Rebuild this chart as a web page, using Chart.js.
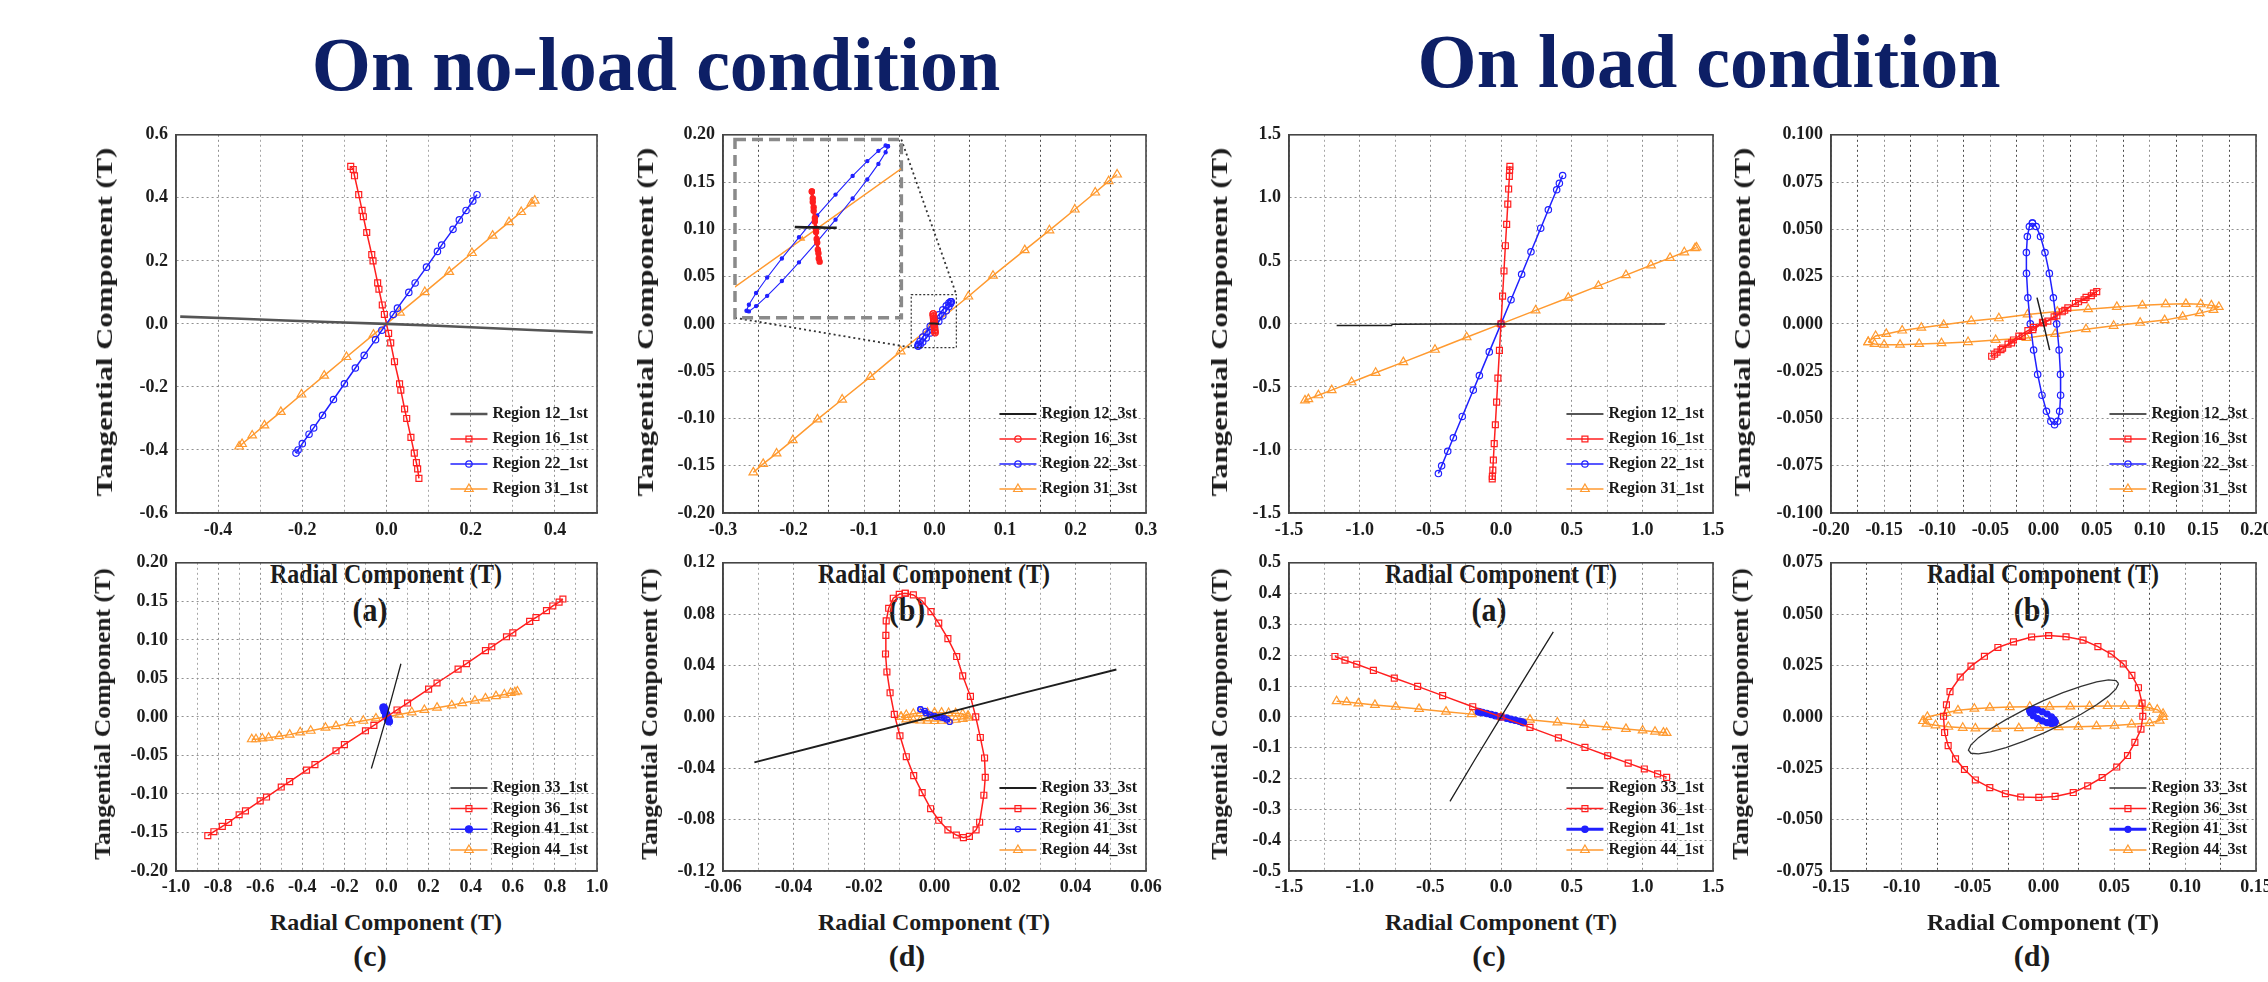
<!DOCTYPE html>
<html>
<head>
<meta charset="utf-8">
<script src="https://cdn.jsdelivr.net/npm/chart.js@4.4.1/dist/chart.umd.min.js"></script>
<style>
  body { margin: 0; width: 2268px; height: 982px; overflow: hidden; background: #fff; position: relative;
         font-family: "Liberation Serif", "Times New Roman", serif; }
  canvas { position: absolute; }
  .txt { position: absolute; font-weight: bold; white-space: nowrap; color: #1c1c1c; line-height: 1; }
  .head { position: absolute; font-weight: bold; white-space: nowrap; color: #0d1f66; font-size: 76px;
          line-height: 76px; transform: translateX(-50%); }
  .probe { position: absolute; left: -500px; top: 0; font-weight: bold; font-size: 18px; }
</style>
</head>
<body>
<div class="head" style="left:656px;top:26px;">On no-load condition</div>
<div class="head" style="left:1709px;top:23px;">On load condition</div>
<div class="probe">0.123 Region</div>
<script>
// ---------- data ----------
// no-load (a)
const noA_labels = ['Region 12_1st', 'Region 16_1st', 'Region 22_1st', 'Region 31_1st'];
const noA_r12 = [[-0.49,0.023],[-0.36,0.017],[-0.24,0.011],[-0.12,0.005],[0,0],[0.12,-0.006],[0.24,-0.013],[0.36,-0.020],[0.49,-0.027]];
const noA_r16 = [[-0.085,0.50],[-0.079,0.49],[-0.076,0.47],[-0.066,0.41],[-0.058,0.36],[-0.055,0.34],[-0.047,0.29],[-0.035,0.22],[-0.032,0.20],[-0.021,0.13],[-0.018,0.11],[-0.010,0.06],[-0.005,0.03],[0.005,-0.03],[0.010,-0.06],[0.019,-0.12],[0.031,-0.19],[0.034,-0.21],[0.043,-0.27],[0.048,-0.30],[0.058,-0.36],[0.066,-0.41],[0.071,-0.44],[0.074,-0.46],[0.077,-0.49]];
const noA_r22 = [[-0.215,-0.41],[-0.210,-0.40],[-0.200,-0.38],[-0.184,-0.35],[-0.173,-0.33],[-0.152,-0.29],[-0.126,-0.24],[-0.100,-0.19],[-0.074,-0.14],[-0.053,-0.10],[-0.026,-0.05],[-0.011,-0.02],[0.016,0.03],[0.026,0.05],[0.053,0.10],[0.068,0.13],[0.095,0.18],[0.121,0.23],[0.131,0.25],[0.158,0.30],[0.173,0.33],[0.189,0.36],[0.205,0.39],[0.215,0.41]];
const noA_r31 = [[-0.350,-0.389],[-0.343,-0.381],[-0.319,-0.354],[-0.290,-0.322],[-0.251,-0.279],[-0.202,-0.224],[-0.148,-0.164],[-0.095,-0.105],[-0.031,-0.034],[0.032,0.036],[0.091,0.101],[0.149,0.165],[0.203,0.225],[0.252,0.280],[0.291,0.323],[0.320,0.355],[0.344,0.382],[0.352,0.391]];

// no-load (b)
const noB_labels = ['Region 12_3st', 'Region 16_3st', 'Region 22_3st', 'Region 31_3st'];
const noB_r12 = [[-0.0075,0.0004],[-0.004,0.0003],[0,0.0003],[0.0035,0.0002],[0.0065,0.0002]];
const noB_r16 = [[-0.0018,0.0105],[-0.0015,0.0085],[-0.0012,0.006],[-0.0008,0.003],[-0.0005,0.0],[-0.0002,-0.003],[0.0002,-0.006],[0.0005,-0.0085],[0.0008,-0.0094],[0.0004,-0.007],[0.0,-0.004],[-0.0004,-0.001],[-0.0008,0.002],[-0.0012,0.005],[-0.0015,0.0075],[-0.0018,0.0105]];
const noB_r22 = [[0.0236,0.0233],[0.0228,0.0235],[0.0204,0.0220],[0.0167,0.0191],[0.0118,0.0149],[0.0061,0.0096],[0,0.0037],[-0.0061,-0.0025],[-0.0118,-0.0085],[-0.0167,-0.0139],[-0.0204,-0.0183],[-0.0228,-0.0216],[-0.0236,-0.0233],[-0.0228,-0.0235],[-0.0204,-0.0220],[-0.0167,-0.0191],[-0.0118,-0.0149],[-0.0061,-0.0096],[0,-0.0037],[0.0061,0.0025],[0.0118,0.0085],[0.0167,0.0139],[0.0204,0.0183],[0.0228,0.0216],[0.0236,0.0233]];
const noB_r31 = [[-0.257,-0.157],[-0.243,-0.148],[-0.224,-0.137],[-0.201,-0.123],[-0.166,-0.101],[-0.131,-0.080],[-0.091,-0.056],[-0.048,-0.029],[-0.005,-0.003],[0.048,0.029],[0.083,0.051],[0.128,0.078],[0.163,0.099],[0.199,0.121],[0.228,0.139],[0.247,0.151],[0.259,0.158]];

// load (a)
const loadA_labels = ['Region 12_1st', 'Region 16_1st', 'Region 22_1st', 'Region 31_1st'];
const loadA_r12 = [[-1.163,-0.013],[-0.774,-0.013],[-0.77,-0.003],[-0.40,0],[0,0],[0.40,0],[1.16,0]];
const loadA_r16 = [[0.063,1.25],[0.061,1.22],[0.059,1.17],[0.054,1.07],[0.048,0.95],[0.040,0.79],[0.031,0.62],[0.021,0.42],[0.011,0.22],[0,0],[-0.011,-0.21],[-0.022,-0.43],[-0.031,-0.62],[-0.040,-0.80],[-0.048,-0.95],[-0.054,-1.08],[-0.058,-1.16],[-0.061,-1.21],[-0.062,-1.23]];
const loadA_r22 = [[-0.443,-1.187],[-0.420,-1.126],[-0.377,-1.010],[-0.337,-0.903],[-0.274,-0.734],[-0.196,-0.525],[-0.153,-0.410],[-0.083,-0.222],[0,0],[0.071,0.192],[0.146,0.394],[0.212,0.572],[0.281,0.759],[0.335,0.905],[0.394,1.064],[0.413,1.115],[0.436,1.177]];
const loadA_r31 = [[-1.387,-0.607],[-1.363,-0.597],[-1.292,-0.566],[-1.198,-0.525],[-1.057,-0.463],[-0.887,-0.388],[-0.691,-0.303],[-0.467,-0.205],[-0.243,-0.106],[0,0],[0.245,0.107],[0.476,0.208],[0.689,0.302],[0.884,0.387],[1.061,0.465],[1.196,0.524],[1.297,0.568],[1.373,0.601],[1.384,0.606]];

// load (b)
const loadB_labels = ['Region 12_3st', 'Region 16_3st', 'Region 22_3st', 'Region 31_3st'];
const loadB_r12 = [[-0.0061,0.0139],[0,0],[0.0058,-0.0139]];
const loadB_r16 = [[-0.0488,-0.0171],[-0.0437,-0.0149],[-0.0385,-0.0128],[-0.0334,-0.0107],[-0.0283,-0.0085],[-0.0232,-0.0064],[-0.0147,-0.0035],[-0.0095,-0.0018],[-0.001,0.0008],[0.0041,0.0015],[0.0126,0.0043],[0.0177,0.0064],[0.0229,0.0085],[0.033,0.0117],[0.0382,0.0128],[0.045,0.0149],[0.0501,0.0171],[0.047,0.0163],[0.040,0.0140],[0.030,0.0108],[0.020,0.0072],[0.010,0.0038],[0.0,0.0005],[-0.010,-0.0030],[-0.020,-0.0066],[-0.030,-0.0100],[-0.040,-0.0136],[-0.046,-0.0160]];
const loadB_r22 = [[-0.0104,0.0533],[-0.0069,0.0515],[-0.0028,0.0462],[0.0014,0.0377],[0.0055,0.0267],[0.0093,0.0138],[0.0124,0],[0.0147,-0.0138],[0.0160,-0.0267],[0.0161,-0.0377],[0.0152,-0.0462],[0.0133,-0.0515],[0.0104,-0.0533],[0.0069,-0.0515],[0.0028,-0.0462],[-0.0014,-0.0377],[-0.0055,-0.0267],[-0.0093,-0.0138],[-0.0124,0],[-0.0147,0.0138],[-0.0160,0.0267],[-0.0161,0.0377],[-0.0152,0.0462],[-0.0133,0.0515],[-0.0104,0.0533]];
const loadB_r31 = [[-0.165,-0.0096],[-0.158,-0.0064],[-0.148,-0.0053],[-0.133,-0.0035],[-0.115,-0.0020],[-0.094,-0.0005],[-0.068,0.0015],[-0.042,0.0030],[-0.015,0.0050],[0.013,0.0065],[0.042,0.0078],[0.069,0.0090],[0.093,0.0098],[0.115,0.0104],[0.134,0.0106],[0.148,0.0104],[0.158,0.0098],[0.165,0.0090],[0.160,0.0074],[0.147,0.0057],[0.131,0.0038],[0.114,0.0020],[0.091,0.0006],[0.066,-0.0010],[0.040,-0.0028],[0.011,-0.0053],[-0.016,-0.0074],[-0.045,-0.0085],[-0.071,-0.0096],[-0.096,-0.0102],[-0.117,-0.0106],[-0.135,-0.0110],[-0.150,-0.0110],[-0.159,-0.0106],[-0.165,-0.0096]];

// no-load (c)
const noC_labels = ['Region 33_1st', 'Region 36_1st', 'Region 41_1st', 'Region 44_1st'];
const noC_r33 = [[-0.072,-0.067],[-0.036,-0.034],[0,0],[0.034,0.034],[0.0685,0.069]];
const noC_r36 = [[-0.849,-0.154],[-0.82,-0.149],[-0.78,-0.142],[-0.75,-0.137],[-0.70,-0.127],[-0.67,-0.122],[-0.60,-0.109],[-0.57,-0.104],[-0.50,-0.091],[-0.46,-0.084],[-0.38,-0.069],[-0.34,-0.062],[-0.24,-0.044],[-0.20,-0.036],[-0.10,-0.018],[-0.06,-0.011],[0.05,0.009],[0.10,0.018],[0.20,0.036],[0.24,0.044],[0.34,0.062],[0.38,0.069],[0.47,0.086],[0.50,0.091],[0.57,0.104],[0.60,0.109],[0.68,0.124],[0.71,0.129],[0.76,0.138],[0.79,0.144],[0.82,0.149],[0.838,0.153]];
const noC_r41 = [[-0.014,0.012],[-0.010,0.0076],[-0.002,0.0013],[0.006,-0.003],[0.012,-0.006],[0.008,-0.002],[0.0,0.003],[-0.008,0.009],[-0.014,0.012]];
const noC_r44 = [[-0.64,-0.029],[-0.62,-0.029],[-0.59,-0.028],[-0.56,-0.027],[-0.51,-0.025],[-0.46,-0.023],[-0.41,-0.020],[-0.36,-0.018],[-0.29,-0.014],[-0.24,-0.012],[-0.17,-0.008],[-0.11,-0.005],[-0.05,-0.002],[0.0,0.0],[0.06,0.003],[0.12,0.006],[0.18,0.009],[0.24,0.012],[0.31,0.015],[0.36,0.018],[0.42,0.021],[0.47,0.024],[0.52,0.027],[0.56,0.029],[0.59,0.031],[0.61,0.032],[0.622,0.033]];

// no-load (d)
const noD_labels = ['Region 33_3st', 'Region 36_3st', 'Region 41_3st', 'Region 44_3st'];
const noD_r33 = [[-0.0511,-0.0354],[-0.025,-0.017],[0,0.0006],[0.025,0.0185],[0.0516,0.0369]];
const noD_r36 = [[-0.0083,0.0963],[-0.006,0.095],[-0.0035,0.0903],[-0.001,0.082],[0.0012,0.073],[0.0038,0.061],[0.0063,0.047],[0.008,0.032],[0.0102,0.016],[0.0117,0.0],[0.013,-0.016],[0.0142,-0.032],[0.0144,-0.047],[0.014,-0.061],[0.0128,-0.082],[0.0118,-0.088],[0.0099,-0.093],[0.0082,-0.094],[0.0062,-0.092],[0.0038,-0.088],[0.0012,-0.0805],[-0.0011,-0.0715],[-0.0035,-0.059],[-0.0059,-0.0457],[-0.008,-0.031],[-0.0098,-0.0147],[-0.0114,0.002],[-0.0126,0.0188],[-0.0135,0.035],[-0.0139,0.049],[-0.0138,0.0635],[-0.0137,0.0748],[-0.013,0.0846],[-0.0117,0.0924],[-0.010,0.0955],[-0.0083,0.0963]];
const noD_r41 = [[-0.004,0.006],[-0.0027,0.0046],[-0.0014,0.002],[0,0.0008],[0.0014,0.0002],[0.0028,-0.001],[0.0043,-0.0039],[0.0035,-0.002],[0.002,-0.0005],[0.0005,0.0],[-0.001,0.0012],[-0.0025,0.003],[-0.004,0.006]];
const noD_r44 = [[-0.0095,0.0],[-0.008,0.0015],[-0.006,0.0025],[-0.004,0.003],[-0.002,0.0032],[0,0.0033],[0.002,0.0033],[0.004,0.003],[0.006,0.0028],[0.008,0.0022],[0.0095,0.001],[0.0095,-0.0005],[0.008,-0.0015],[0.006,-0.0022],[0.004,-0.0028],[0.002,-0.003],[0,-0.0032],[-0.002,-0.003],[-0.004,-0.0028],[-0.006,-0.0025],[-0.008,-0.002],[-0.0095,0.0]];

// load (c)
const loadC_labels = ['Region 33_1st', 'Region 36_1st', 'Region 41_1st', 'Region 44_1st'];
const loadC_r33 = [[-0.361,-0.274],[-0.18,-0.135],[0,0],[0.18,0.135],[0.37,0.276]];
const loadC_r36 = [[-1.175,0.196],[-1.104,0.184],[-1.021,0.171],[-0.903,0.151],[-0.755,0.126],[-0.59,0.099],[-0.413,0.069],[-0.2,0.033],[0,0],[0.205,-0.034],[0.406,-0.068],[0.594,-0.099],[0.755,-0.126],[0.9,-0.150],[1.014,-0.169],[1.108,-0.185],[1.172,-0.196]];
const loadC_r41 = [[-0.16,0.017],[-0.15,0.016],[-0.13,0.014],[-0.10,0.011],[-0.07,0.008],[-0.04,0.004],[0,0],[0.04,-0.004],[0.07,-0.008],[0.10,-0.011],[0.13,-0.014],[0.15,-0.017],[0.158,-0.019]];
const loadC_r44 = [[-1.163,0.051],[-1.092,0.048],[-1.009,0.044],[-0.892,0.039],[-0.745,0.033],[-0.58,0.026],[-0.389,0.017],[-0.208,0.009],[0,0],[0.205,-0.009],[0.399,-0.018],[0.587,-0.026],[0.748,-0.033],[0.884,-0.039],[1.002,-0.044],[1.09,-0.048],[1.149,-0.051],[1.172,-0.052]];

// load (d)
const loadD_labels = ['Region 33_3st', 'Region 36_3st', 'Region 41_3st', 'Region 44_3st'];
const loadD_r33 = [[0.053,0.0162],[0.0512,0.0177],[0.0459,0.018],[0.0375,0.017],[0.0265,0.0149],[0.0137,0.0118],[0,0.0079],[-0.0137,0.0034],[-0.0265,-0.0013],[-0.0375,-0.0059],[-0.0459,-0.0101],[-0.0512,-0.0136],[-0.053,-0.0162],[-0.0512,-0.0177],[-0.0459,-0.018],[-0.0375,-0.017],[-0.0265,-0.0149],[-0.0137,-0.0118],[0,-0.0079],[0.0137,-0.0034],[0.0265,0.0013],[0.0375,0.0059],[0.0459,0.0101],[0.0512,0.0136],[0.053,0.0162]];
const loadD_r36 = [[0.0036,0.0396],[0.0159,0.039],[0.0279,0.0374],[0.0384,0.0342],[0.0478,0.0306],[0.0563,0.0258],[0.0624,0.0202],[0.067,0.0142],[0.0696,0.0067],[0.0701,0.0003],[0.0688,-0.006],[0.0645,-0.0124],[0.0593,-0.0188],[0.0517,-0.0244],[0.0414,-0.0295],[0.0312,-0.0336],[0.021,-0.0368],[0.0082,-0.0387],[-0.0033,-0.0392],[-0.0161,-0.039],[-0.0269,-0.0374],[-0.0379,-0.0344],[-0.0481,-0.0307],[-0.0558,-0.0256],[-0.0621,-0.0204],[-0.0673,-0.014],[-0.0698,-0.0076],[-0.0706,0.0003],[-0.0685,0.0059],[-0.066,0.0123],[-0.0588,0.0194],[-0.0512,0.0247],[-0.0417,0.0295],[-0.0322,0.0338],[-0.0212,0.0365],[-0.0084,0.0389],[0.0036,0.0396]];
const loadD_r41 = [[0.0082,-0.0024],[0.0075,-0.0030],[0.0056,-0.0032],[0.0026,-0.0028],[-0.0008,-0.0019],[-0.0042,-0.0008],[-0.0072,0.0006],[-0.0091,0.0019],[-0.0098,0.0030],[-0.0091,0.0036],[-0.0072,0.0038],[-0.0042,0.0034],[-0.0008,0.0025],[0.0026,0.0014],[0.0056,0.0000],[0.0075,-0.0013],[0.0082,-0.0024]];
const loadD_r44 = [[-0.085,-0.002],[-0.082,0.0],[-0.0685,0.002],[-0.0604,0.0032],[-0.0488,0.004],[-0.0379,0.0045],[-0.0238,0.0048],[-0.0097,0.005],[0.0043,0.005],[0.0189,0.0051],[0.0325,0.0052],[0.0453,0.0053],[0.0573,0.0053],[0.0683,0.0053],[0.0747,0.0045],[0.0803,0.0035],[0.0844,0.0015],[0.0844,0.0],[0.082,-0.0018],[0.075,-0.003],[0.0622,-0.0036],[0.0501,-0.0042],[0.0374,-0.0045],[0.0246,-0.0048],[0.0107,-0.005],[-0.0033,-0.0053],[-0.0174,-0.0055],[-0.0332,-0.0057],[-0.0481,-0.0056],[-0.057,-0.0053],[-0.0672,-0.0048],[-0.0762,-0.0041],[-0.0826,-0.0033],[-0.085,-0.002]];

// ---------- styles ----------
const FONT = '"Liberation Serif", "Times New Roman", serif';
const RED = '#ff1f1f', BLUE = '#2020ff', ORANGE = '#ff9a30', BLACK = '#1e1e1e';
const sBlack = { color: BLACK, lw: 1.5 };
const sRed = { color: RED, marker: 'rect', r: 4.2 };
const sBlue = { color: BLUE, marker: 'circle', r: 3.2 };
const sOrange = { color: ORANGE, marker: 'triangle', r: 5 };

function series(label, pts, st) {
    return {
        label: label,
        data: pts.map(p => ({ x: p[0], y: p[1] })),
        showLine: true,
        borderColor: st.color,
        borderWidth: st.lw || 1.5,
        pointStyle: st.marker || 'circle',
        pointRadius: st.marker ? st.r : 0,
        pointBorderColor: st.color,
        pointBackgroundColor: st.fill ? st.color : 'rgba(255,255,255,0)',
        pointBorderWidth: st.pw || 1.2,
        tension: 0
    };
}

// plot frames (full box), legend inside the plot, zoom annotations
const framePlugin = {
    id: 'frame',
    afterDraw(chart, args, opts) {
        const { ctx, chartArea: a } = chart;
        ctx.save();
        if (opts.zoom) {
            const sx = chart.scales.x, sy = chart.scales.y;
            const px = v => sx.getPixelForValue(v), py = v => sy.getPixelForValue(v);
            const f = opts.zoom.from, t = opts.zoom.to;
            ctx.strokeStyle = '#333'; ctx.lineWidth = 1.2; ctx.setLineDash([2, 2]);
            ctx.strokeRect(px(f.x0), py(f.y1), px(f.x1) - px(f.x0), py(f.y0) - py(f.y1));
            ctx.lineWidth = 1.8; ctx.setLineDash([2, 3]);
            ctx.beginPath();
            ctx.moveTo(px(t.x1), py(t.y1)); ctx.lineTo(px(f.x1), py(f.y1));
            ctx.moveTo(px(t.x0), py(t.y0)); ctx.lineTo(px(f.x0), py(f.y0));
            ctx.stroke();
            ctx.strokeStyle = '#8a8a8a'; ctx.lineWidth = 3.5; ctx.setLineDash([11, 6]);
            ctx.strokeRect(px(t.x0), py(t.y1), px(t.x1) - px(t.x0), py(t.y0) - py(t.y1));
            ctx.setLineDash([]);
        }
        ctx.strokeStyle = '#454545'; ctx.lineWidth = 1.6;
        ctx.strokeRect(a.left, a.top, a.right - a.left, a.bottom - a.top);
        if (opts.legend) {
            const dsets = chart.data.datasets;
            ctx.font = 'bold 16px ' + FONT;
            const maxW = Math.max(...dsets.map(d => ctx.measureText(d.label).width));
            const tx = a.right - 9 - maxW;
            dsets.forEach((d, i) => {
                const y = a.bottom - opts.legend.bottom - (dsets.length - 1 - i) * opts.legend.gap;
                ctx.strokeStyle = d.borderColor;
                ctx.lineWidth = Math.max(d.borderWidth, 1.5);
                ctx.beginPath(); ctx.moveTo(tx - 42, y); ctx.lineTo(tx - 5, y); ctx.stroke();
                if (d.pointRadius > 0 && Chart.helpers && Chart.helpers.drawPoint) {
                    ctx.fillStyle = d.pointBackgroundColor;
                    ctx.lineWidth = d.pointBorderWidth;
                    Chart.helpers.drawPoint(ctx, { pointStyle: d.pointStyle, radius: d.pointRadius, borderWidth: d.pointBorderWidth, rotation: 0 }, tx - 23.5, y);
                }
                ctx.fillStyle = '#1a1a1a'; ctx.textBaseline = 'middle'; ctx.textAlign = 'left';
                ctx.fillText(d.label, tx, y);
            });
        }
        ctx.restore();
    }
};

function tickLabel(labelStep, dec) {
    return function (v) {
        const k = v / labelStep;
        if (Math.abs(k - Math.round(k)) > 1e-6) return '';
        return (Math.abs(v) < 1e-9 ? 0 : v).toFixed(dec);
    };
}
function gridColor(labelStep, darkMinor) {
    return ctx => {
        if (!ctx.tick) return '#909090';
        const k = ctx.tick.value / labelStep;
        if (Math.abs(k - Math.round(k)) < 1e-6) return '#909090';
        return darkMinor ? '#4a4a4a' : '#a6a6a6';
    };
}

const PAD_L = 95, PAD_T = 14, PAD_R = 24, PAD_B = 34;

function makePanel(p) {
    const cnv = document.createElement('canvas');
    cnv.width = p.w + PAD_L + PAD_R;
    cnv.height = p.h + PAD_T + PAD_B;
    cnv.style.left = (p.left - PAD_L) + 'px';
    cnv.style.top = (p.top - PAD_T) + 'px';
    document.body.appendChild(cnv);
    const tickFont = { family: FONT, weight: 'bold', size: 18 };
    const chart = new Chart(cnv.getContext('2d'), {
        type: 'scatter',
        data: { datasets: p.datasets },
        options: {
            responsive: false,
            animation: false,
            events: [],
            layout: { padding: { left: 0, top: PAD_T, right: PAD_R, bottom: 0 } },
            plugins: {
                legend: { display: false },
                tooltip: { enabled: false },
                frame: { legend: p.legend, zoom: p.zoom }
            },
            scales: {
                x: {
                    type: 'linear', min: p.x.min, max: p.x.max,
                    afterFit: s => { s.height = PAD_B; },
                    ticks: { stepSize: p.x.step, autoSkip: false, maxRotation: 0, padding: p.xPad,
                             callback: tickLabel(p.x.label, p.x.dec), font: tickFont, color: '#1c1c1c' },
                    grid: { color: gridColor(p.x.label, p.x.dark), lineWidth: 1, drawTicks: false },
                    border: { color: '#454545', width: 1.6, dash: [2, 3] }
                },
                y: {
                    type: 'linear', min: p.y.min, max: p.y.max,
                    afterFit: s => { s.width = PAD_L; },
                    ticks: { stepSize: p.y.step, autoSkip: false, padding: 8,
                             callback: tickLabel(p.y.step, p.y.dec), font: tickFont, color: '#1c1c1c' },
                    grid: { color: '#909090', lineWidth: 1, drawTicks: false },
                    border: { color: '#454545', width: 1.6, dash: [2, 3] }
                }
            }
        },
        plugins: [framePlugin]
    });
    return { chart: chart, canvas: cnv };
}

function addText(txt, x, y, size, transform) {
    const d = document.createElement('div');
    d.className = 'txt';
    d.textContent = txt;
    d.style.left = x + 'px';
    d.style.top = y + 'px';
    d.style.fontSize = size + 'px';
    d.style.transform = transform;
    document.body.appendChild(d);
}

// ---------- panels ----------
const TOP = { top: 130, h: 383, xPad: 7, legend: { bottom: 24, gap: 25 } };
const BOT = { top: 558, h: 313, xPad: 6, legend: { bottom: 21, gap: 20.7 } };
const COLS = [{ left: 176, w: 421 }, { left: 723, w: 423 }, { left: 1289, w: 424 }, { left: 1831, w: 425 }];

const zoomBox = { from: { x0: -0.033, x1: 0.031, y0: -0.025, y1: 0.031 },
                  to: { x0: -0.283, x1: -0.047, y0: 0.0064, y1: 0.195 } };

const panels = [
    { row: TOP, col: COLS[0], letter: '(a)',
      x: { min: -0.5, max: 0.5, step: 0.1, label: 0.2, dec: 1 }, y: { min: -0.6, max: 0.6, step: 0.2, dec: 1 },
      datasets: [series(noA_labels[0], noA_r12, { color: '#555', lw: 2.6 }), series(noA_labels[1], noA_r16, sRed),
                 series(noA_labels[2], noA_r22, sBlue), series(noA_labels[3], noA_r31, sOrange)] },
    { row: TOP, col: COLS[1], letter: '(b)', zoom: zoomBox,
      x: { min: -0.3, max: 0.3, step: 0.05, label: 0.1, dec: 1, dark: true }, y: { min: -0.2, max: 0.2, step: 0.05, dec: 2 },
      datasets: [series(noB_labels[0], noB_r12, { color: BLACK, lw: 2 }), series(noB_labels[1], noB_r16, { color: RED, marker: 'circle', r: 3.2 }),
                 series(noB_labels[2], noB_r22, sBlue), series(noB_labels[3], noB_r31, sOrange)] },
    { row: TOP, col: COLS[2], letter: '(a)',
      x: { min: -1.5, max: 1.5, step: 0.25, label: 0.5, dec: 1 }, y: { min: -1.5, max: 1.5, step: 0.5, dec: 1 },
      datasets: [series(loadA_labels[0], loadA_r12, sBlack), series(loadA_labels[1], loadA_r16, sRed),
                 series(loadA_labels[2], loadA_r22, sBlue), series(loadA_labels[3], loadA_r31, sOrange)] },
    { row: TOP, col: COLS[3], letter: '(b)',
      x: { min: -0.2, max: 0.2, step: 0.025, label: 0.05, dec: 2, dark: true }, y: { min: -0.1, max: 0.1, step: 0.025, dec: 3 },
      datasets: [series(loadB_labels[0], loadB_r12, sBlack), series(loadB_labels[1], loadB_r16, sRed),
                 series(loadB_labels[2], loadB_r22, sBlue), series(loadB_labels[3], loadB_r31, sOrange)] },
    { row: BOT, col: COLS[0], letter: '(c)',
      x: { min: -1, max: 1, step: 0.1, label: 0.2, dec: 1 }, y: { min: -0.2, max: 0.2, step: 0.05, dec: 2 },
      datasets: [series(noC_labels[0], noC_r33, { color: BLACK, lw: 1.3 }), series(noC_labels[1], noC_r36, sRed),
                 series(noC_labels[2], noC_r41, { color: BLUE, marker: 'circle', r: 3.5, fill: true }), series(noC_labels[3], noC_r44, sOrange)] },
    { row: BOT, col: COLS[1], letter: '(d)',
      x: { min: -0.06, max: 0.06, step: 0.01, label: 0.02, dec: 2 }, y: { min: -0.12, max: 0.12, step: 0.04, dec: 2 },
      datasets: [series(noD_labels[0], noD_r33, { color: BLACK, lw: 2 }), series(noD_labels[1], noD_r36, sRed),
                 series(noD_labels[2], noD_r41, { color: BLUE, marker: 'circle', r: 2.6 }), series(noD_labels[3], noD_r44, sOrange)] },
    { row: BOT, col: COLS[2], letter: '(c)',
      x: { min: -1.5, max: 1.5, step: 0.25, label: 0.5, dec: 1 }, y: { min: -0.5, max: 0.5, step: 0.1, dec: 1 },
      datasets: [series(loadC_labels[0], loadC_r33, { color: BLACK, lw: 1.3 }), series(loadC_labels[1], loadC_r36, sRed),
                 series(loadC_labels[2], loadC_r41, { color: BLUE, marker: 'circle', r: 3.2, fill: true, lw: 3 }), series(loadC_labels[3], loadC_r44, sOrange)] },
    { row: BOT, col: COLS[3], letter: '(d)',
      x: { min: -0.15, max: 0.15, step: 0.025, label: 0.05, dec: 2, dark: true }, y: { min: -0.075, max: 0.075, step: 0.025, dec: 3 },
      datasets: [series(loadD_labels[0], loadD_r33, { color: '#333', lw: 1.3 }), series(loadD_labels[1], loadD_r36, sRed),
                 series(loadD_labels[2], loadD_r41, { color: BLUE, marker: 'circle', r: 3, fill: true, lw: 3 }), series(loadD_labels[3], loadD_r44, sOrange)] }
];

const titleX = [386, 934, 1501, 2043];
const letterX = [370, 907, 1489, 2032];
const yTitleTop = [104, 645, 1219, 1742];
const yTitleBot = [102, 649, 1219, 1740];

function buildAll() {
    const built = panels.map((pp, i) => {
        const p = Object.assign({}, pp, { left: pp.col.left, w: pp.col.w, top: pp.row.top, h: pp.row.h,
                                          xPad: pp.row.xPad, legend: pp.row.legend });
        const res = makePanel(p);
        const c = i % 4, top = pp.row === TOP;
        addText('Radial Component (T)', titleX[c], top ? 573.5 : 922, 24,
                'translate(-50%,-50%) scaleY(' + (top ? 1.12 : 1.0) + ')');
        addText(pp.letter, letterX[c], top ? 610 : 956, 30,
                'translate(-50%,-50%) scaleY(' + (top ? 1.12 : 1.0) + ')');
        addText('Tangential Component (T)', top ? yTitleTop[c] : yTitleBot[c], top ? 322 : 714, 24,
                'translate(-50%,-50%) rotate(-90deg) scaleX(' + (top ? 1.28 : 1.07) + ')');
        return res;
    });

    // inset of no-load (b): same data, magnified
    const main = built[1];
    const sx = main.chart.scales.x, sy = main.chart.scales.y;
    const t = zoomBox.to;
    const x0 = sx.getPixelForValue(t.x0), x1 = sx.getPixelForValue(t.x1);
    const y0 = sy.getPixelForValue(t.y1), y1 = sy.getPixelForValue(t.y0);
    const cnv = document.createElement('canvas');
    cnv.width = Math.round(x1 - x0);
    cnv.height = Math.round(y1 - y0);
    cnv.style.left = (parseFloat(main.canvas.style.left) + x0) + 'px';
    cnv.style.top = (parseFloat(main.canvas.style.top) + y0) + 'px';
    document.body.appendChild(cnv);
    const ds = [
        series(noB_labels[0], noB_r12, { color: BLACK, lw: 2.6 }),
        series(noB_labels[1], noB_r16, { color: RED, marker: 'circle', r: 2.6, fill: true, lw: 3 }),
        series(noB_labels[2], noB_r22, { color: BLUE, marker: 'circle', r: 1.6, fill: true, lw: 1.1 }),
        series(noB_labels[3], noB_r31, { color: ORANGE, marker: 'triangle', r: 2.4, lw: 1.4 })
    ];
    ds.forEach(d => { d.clip = false; });
    new Chart(cnv.getContext('2d'), {
        type: 'scatter',
        data: { datasets: ds },
        options: {
            responsive: false, animation: false, events: [],
            layout: { padding: 0 },
            plugins: { legend: { display: false }, tooltip: { enabled: false } },
            scales: {
                x: { type: 'linear', min: -0.0257, max: 0.0262, display: false },
                y: { type: 'linear', min: -0.0239, max: 0.0236, display: false }
            }
        }
    });
}

// make sure the serif face is ready before the canvases draw text
if (document.fonts && document.fonts.load) {
    Promise.all([document.fonts.load('bold 18px "Liberation Serif"'), document.fonts.load('bold 16px "Liberation Serif"')])
        .then(buildAll, buildAll);
} else {
    buildAll();
}
</script>
</body>
</html>
